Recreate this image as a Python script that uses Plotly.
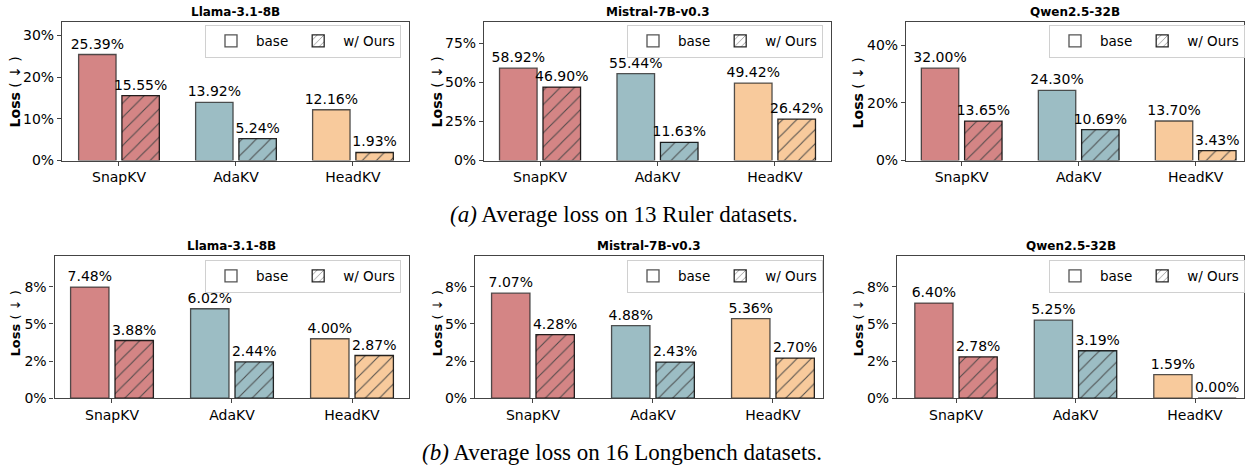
import plotly.graph_objects as go

W, H = 1245, 473

methods = ["SnapKV", "AdaKV", "HeadKV"]
models = ["Llama-3.1-8B", "Mistral-7B-v0.3", "Qwen2.5-32B"]

# (a) Ruler – average loss (%)
ruler_llama_base = [25.39, 13.92, 12.16]
ruler_llama_ours = [15.55, 5.24, 1.93]
ruler_mistral_base = [58.92, 55.44, 49.42]
ruler_mistral_ours = [46.90, 11.63, 26.42]
ruler_qwen_base = [32.00, 24.30, 13.70]
ruler_qwen_ours = [13.65, 10.69, 3.43]

# (b) Longbench – average loss (%)
lb_llama_base = [7.48, 6.02, 4.00]
lb_llama_ours = [3.88, 2.44, 2.87]
lb_mistral_base = [7.07, 4.88, 5.36]
lb_mistral_ours = [4.28, 2.43, 2.70]
lb_qwen_base = [6.40, 5.25, 1.59]
lb_qwen_ours = [2.78, 3.19, 0.00]

# y ticks
ruler_llama_ticks = [0, 10, 20, 30]
ruler_mistral_ticks = [0, 25, 50, 75]
ruler_qwen_ticks = [0, 20, 40]
lb_ticks = [0, 2.5, 5, 7.5]
lb_tick_labels = ["0%", "2%", "5%", "8%"]

colors = ["#d48585", "#9cbdc4", "#f8ca9c"]

caption_a = "<i>(a)</i> Average loss on 13 Ruler datasets."
caption_b = "<i>(b)</i> Average loss on 16 Longbench datasets."

BAR_W = 0.32
GAP = 0.05

panels = [
    dict(base=ruler_llama_base, ours=ruler_llama_ours, ticks=ruler_llama_ticks,
         labels=[f"{t}%" for t in ruler_llama_ticks], title=models[0],
         px=(62, 409, 22.7, 163.3), xr=[-0.487, 2.479], ymax=33.1, ylab=(15, 94), yl_size=14,
         leg=(401, 25)),
    dict(base=ruler_mistral_base, ours=ruler_mistral_ours, ticks=ruler_mistral_ticks,
         labels=[f"{t}%" for t in ruler_mistral_ticks], title=models[1],
         px=(484, 831, 22.7, 163.3), xr=[-0.477, 2.477], ymax=88.2, ylab=(437, 94), yl_size=14,
         leg=(823, 25)),
    dict(base=ruler_qwen_base, ours=ruler_qwen_ours, ticks=ruler_qwen_ticks,
         labels=[f"{t}%" for t in ruler_qwen_ticks], title=models[2],
         px=(906, 1244, 22.7, 163.3), xr=[-0.476, 2.413], ymax=47.9, ylab=(858, 94), yl_size=14,
         leg=(1245, 25)),
    dict(base=lb_llama_base, ours=lb_llama_ours, ticks=lb_ticks, labels=lb_tick_labels,
         title=models[0], px=(54.5, 409, 260.7, 405), xr=[-0.479, 2.475], ymax=9.55,
         ylab=(15, 329), yl_size=13, leg=(401, 264)),
    dict(base=lb_mistral_base, ours=lb_mistral_ours, ticks=lb_ticks, labels=lb_tick_labels,
         title=models[1], px=(475, 823, 260.7, 405), xr=[-0.483, 2.417], ymax=9.55,
         ylab=(437, 329), yl_size=13, leg=(823, 264)),
    dict(base=lb_qwen_base, ours=lb_qwen_ours, ticks=lb_ticks, labels=lb_tick_labels,
         title=models[2], px=(897, 1244, 260.7, 405), xr=[-0.494, 2.41], ymax=9.55,
         ylab=(858, 329), yl_size=13, leg=(1245, 264)),
]

FONT = "DejaVu Sans"
fig = go.Figure()
layout = dict(
    width=W, height=H, margin=dict(l=0, r=0, t=0, b=0),
    paper_bgcolor="white", plot_bgcolor="white",
    barmode="overlay",
    font=dict(family=FONT, size=14, color="black"),
    annotations=[],
)

base_line = dict(color="rgba(40,40,40,0.8)", width=1.3)
ours_line = dict(color="rgba(0,0,0,0.85)", width=1.3)

for i, p in enumerate(panels):
    n = "" if i == 0 else str(i + 1)
    xa, ya = "x" + n, "y" + n
    leg = "legend" + n
    L, R, T, B = p["px"]
    fig.add_trace(go.Bar(
        x=methods, y=p["base"], xaxis=xa, yaxis=ya, showlegend=False,
        width=BAR_W, offset=-(BAR_W + GAP / 2),
        marker=dict(color=colors, line=base_line, opacity=1),
        texttemplate="%{y:.2f}%", textposition="outside", constraintext="none",
        cliponaxis=False, textfont=dict(family=FONT, size=14, color="black"),
    ))
    fig.add_trace(go.Bar(
        x=methods, y=p["ours"], xaxis=xa, yaxis=ya, showlegend=False,
        width=BAR_W, offset=GAP / 2,
        marker=dict(color=colors, line=ours_line, opacity=1,
                    pattern=dict(shape="/", fgcolor="black", fgopacity=0.9,
                                 size=10, solidity=0.11)),
        texttemplate="%{y:.2f}%", textposition="outside", constraintext="none",
        cliponaxis=False, textfont=dict(family=FONT, size=14, color="black"),
    ))
    # legend entries
    fig.add_trace(go.Bar(
        x=[None], y=[None], xaxis=xa, yaxis=ya, name="base", legend=leg,
        marker=dict(color="white", line=base_line),
    ))
    fig.add_trace(go.Bar(
        x=[None], y=[None], xaxis=xa, yaxis=ya, name="w/ Ours", legend=leg,
        marker=dict(color="white", line=ours_line,
                    pattern=dict(shape="/", fgcolor="black", size=6, solidity=0.15)),
    ))
    layout["xaxis" + n] = dict(
        domain=[L / W, R / W], anchor=ya, range=p["xr"], type="category",
        showline=True, mirror=True, linecolor="#444", linewidth=1.2,
        ticks="outside", ticklen=4, tickcolor="#444", showgrid=False,
        tickfont=dict(family=FONT, size=14, color="black"),
    )
    layout["yaxis" + n] = dict(
        domain=[1 - B / H, 1 - T / H], anchor=xa, range=[0, p["ymax"]],
        tickvals=p["ticks"], ticktext=p["labels"],
        showline=True, mirror=True, linecolor="#444", linewidth=1.2,
        ticks="outside", ticklen=4, tickcolor="#444", showgrid=False, zeroline=False,
        tickfont=dict(family=FONT, size=14, color="black"),
    )
    layout[leg] = dict(
        x=p["leg"][0] / W, y=1 - p["leg"][1] / H, xanchor="right", yanchor="top",
        orientation="h", bgcolor="rgba(255,255,255,0.8)", bordercolor="#d0d0d0",
        borderwidth=1, font=dict(family=FONT, size=13.5, color="black"),
        itemwidth=40, traceorder="normal",
    )
    layout["annotations"].append(dict(
        text="<b>" + p["title"] + "</b>", xref="paper", yref="paper",
        x=(L + R) / 2 / W, y=1 - (T - 10) / H, xanchor="center", yanchor="middle",
        showarrow=False, font=dict(family=FONT, size=12, color="black"),
    ))
    layout["annotations"].append(dict(
        text="<b>Loss</b> ( ↓ )", xref="paper", yref="paper", textangle=-90,
        x=p["ylab"][0] / W, y=1 - p["ylab"][1] / H, xanchor="center", yanchor="middle",
        showarrow=False, font=dict(family=FONT, size=p["yl_size"], color="black"),
    ))

layout["annotations"].append(dict(
    text=caption_a, xref="paper", yref="paper", x=624 / W, y=1 - 218 / H,
    xanchor="center", yanchor="middle", showarrow=False,
    font=dict(family="Liberation Serif", size=23, color="black"),
))
layout["annotations"].append(dict(
    text=caption_b, xref="paper", yref="paper", x=622 / W, y=1 - 460 / H,
    xanchor="center", yanchor="middle", showarrow=False,
    font=dict(family="Liberation Serif", size=23, color="black"),
))

fig.update_layout(**layout)
fig.write_html("out.html")
